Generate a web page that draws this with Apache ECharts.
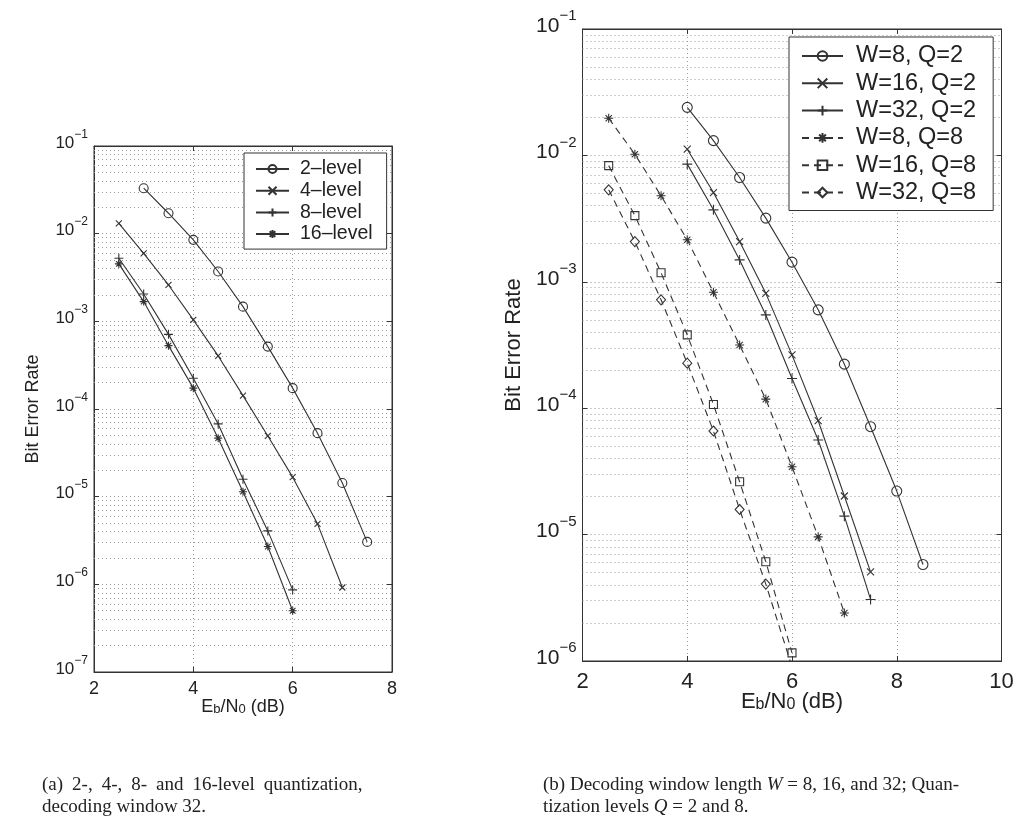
<!DOCTYPE html>
<html>
<head>
<meta charset="utf-8">
<script src="https://cdn.jsdelivr.net/npm/echarts@6.0.0/dist/echarts.min.js"></script>
<style>
  html, body { margin: 0; padding: 0; background: #fff; }
  #chart { width: 1024px; height: 819px; }
</style>
</head>
<body>
<div id="chart"></div>
<script>
// ---- (a) quantization levels, decoding window 32 ----
const ebnoQ2 = [3, 3.5, 4, 4.5, 5, 5.5, 6, 6.5, 7, 7.5];
const berQ2 = [3.3e-2, 1.71e-2, 8.5e-3, 3.7e-3, 1.47e-3, 5.15e-4, 1.73e-4, 5.3e-5, 1.43e-5, 3.05e-6];
const ebnoQ4 = [2.5, 3, 3.5, 4, 4.5, 5, 5.5, 6, 6.5, 7];
const berQ4 = [1.31e-2, 5.97e-3, 2.6e-3, 1.04e-3, 4.03e-4, 1.42e-4, 4.93e-5, 1.67e-5, 4.9e-6, 9.2e-7];
const ebnoQ8 = [2.5, 3, 3.5, 4, 4.5, 5, 5.5, 6];
const berQ8 = [5.24e-3, 2.05e-3, 7.1e-4, 2.24e-4, 6.76e-5, 1.58e-5, 4.07e-6, 8.65e-7];
const ebnoQ16 = [2.5, 3, 3.5, 4, 4.5, 5, 5.5, 6];
const berQ16 = [4.52e-3, 1.68e-3, 5.28e-4, 1.73e-4, 4.65e-5, 1.14e-5, 2.7e-6, 5.0e-7];
const namesA = ['2–level', '4–level', '8–level', '16–level'];

// ---- (b) decoding window W and quantization Q ----
const ebnoW8Q2 = [4, 4.5, 5, 5.5, 6, 6.5, 7, 7.5, 8, 8.5];
const berW8Q2 = [2.4e-2, 1.31e-2, 6.68e-3, 3.19e-3, 1.43e-3, 6.0e-4, 2.23e-4, 7.14e-5, 2.21e-5, 5.8e-6];
const ebnoW16Q2 = [4, 4.5, 5, 5.5, 6, 6.5, 7, 7.5];
const berW16Q2 = [1.12e-2, 5.08e-3, 2.08e-3, 8.1e-4, 2.64e-4, 7.96e-5, 2.02e-5, 5.07e-6];
const ebnoW32Q2 = [4, 4.5, 5, 5.5, 6, 6.5, 7, 7.5];
const berW32Q2 = [8.53e-3, 3.71e-3, 1.49e-3, 5.47e-4, 1.72e-4, 5.6e-5, 1.4e-5, 3.07e-6];
const ebnoW8Q8 = [2.5, 3, 3.5, 4, 4.5, 5, 5.5, 6, 6.5, 7];
const berW8Q8 = [1.97e-2, 1.02e-2, 4.79e-3, 2.15e-3, 8.27e-4, 3.16e-4, 1.18e-4, 3.44e-5, 9.6e-6, 2.4e-6];
const ebnoW16Q8 = [2.5, 3, 3.5, 4, 4.5, 5, 5.5, 6];
const berW16Q8 = [8.3e-3, 3.34e-3, 1.18e-3, 3.8e-4, 1.07e-4, 2.62e-5, 6.1e-6, 1.16e-6];
const ebnoW32Q8 = [2.5, 3, 3.5, 4, 4.5, 5, 5.5, 6];
const berW32Q8 = [5.34e-3, 2.08e-3, 7.2e-4, 2.27e-4, 6.6e-5, 1.58e-5, 4.06e-6, 9.0e-7];
const namesB = ['W=8, Q=2', 'W=16, Q=2', 'W=32, Q=2', 'W=8, Q=8', 'W=16, Q=8', 'W=32, Q=8'];

const xTicksA = [2, 4, 6, 8];
const xTicksB = [2, 4, 6, 8, 10];

// marker outlines (stroked, hollow)
const MK = {
  circle: 'path://M10,5A5,5,0,1,1,0,5A5,5,0,1,1,10,5Z',
  cross: 'path://M0,0L10,10M10,0L0,10',
  plus: 'path://M5,0L5,10M0,5L10,5',
  star: 'path://M5,0L5,10M0,5L10,5M1.5,1.5L8.5,8.5M8.5,1.5L1.5,8.5',
  square: 'path://M0,0L10,0L10,10L0,10Z',
  diamond: 'path://M5,0L10,6L5,12L0,6Z'
};

const INK = '#333';
const GRIDC = '#9a9a9a';
const FONT = 'Liberation Sans, Arial, sans-serif';
const SERIF = '"Liberation Serif", "Times New Roman", serif';

function pairs(xs, ys) { return xs.map((x, i) => [x, ys[i]]); }

function curve(name, xs, ys, sym, size, dashed, xi, yi) {
  return {
    name: name, type: 'line', xAxisIndex: xi, yAxisIndex: yi,
    data: pairs(xs, ys), z: 5, clip: true, animation: false,
    symbol: sym, symbolSize: size,
    lineStyle: { color: INK, width: 1.1, type: dashed ? [7, 5] : 'solid' },
    itemStyle: { color: 'transparent', borderColor: INK, borderWidth: 1.1 },
    emphasis: { disabled: true }
  };
}

// dotted minor grid lines at 2..9 x 10^e, spanning the x range
function minorGrid(xi, yi, xLo, xHi, eLo, eHi) {
  const segs = [];
  for (let e = eLo; e < eHi; e++) {
    for (let k = 2; k <= 9; k++) {
      const v = k * Math.pow(10, e);
      segs.push({ coords: [[xLo, v], [xHi, v]] });
    }
  }
  return {
    type: 'lines', coordinateSystem: 'cartesian2d', xAxisIndex: xi, yAxisIndex: yi,
    z: 1, silent: true, animation: false, polyline: false,
    lineStyle: { color: GRIDC, type: [1, 3], width: 1, opacity: 1 },
    data: segs
  };
}

function expLabel(v) {
  const e = Math.round(Math.log10(v));
  return '{b|10}{s|−' + (-e) + '}';
}

function xAxisPair(gridIndex, min, max, fs, margin, nameGap, nameFs) {
  return [{
    type: 'value', gridIndex: gridIndex, min: min, max: max, interval: 2, position: 'bottom',
    axisLine: { lineStyle: { color: INK, width: 1 } },
    axisTick: { inside: true, length: 5, lineStyle: { color: INK } },
    axisLabel: { color: '#222', fontSize: fs, fontFamily: FONT, margin: margin },
    splitLine: { show: true, lineStyle: { color: GRIDC, type: [1, 3], width: 1 } },
    name: 'E{sub|b}/N{sub|0} (dB)', nameLocation: 'middle', nameGap: nameGap, nameMoveOverlap: false,
    nameTextStyle: {
      color: '#222', fontSize: nameFs, fontFamily: FONT,
      rich: { sub: { fontSize: Math.round(nameFs * 0.72), fontFamily: FONT, color: '#222', verticalAlign: 'bottom', lineHeight: Math.round(nameFs * 0.72), padding: [7, 0, 0, 0] } }
    }
  }, {
    type: 'value', gridIndex: gridIndex, min: min, max: max, interval: 2, position: 'top',
    axisLine: { lineStyle: { color: INK, width: 1 } },
    axisTick: { inside: true, length: 5, lineStyle: { color: INK } },
    axisLabel: { show: false }, splitLine: { show: false }
  }];
}

function yAxisPair(gridIndex, min, max, fs, nameGap, nameFs) {
  return [{
    type: 'log', logBase: 10, gridIndex: gridIndex, min: min, max: max, interval: 1, position: 'left',
    axisLine: { lineStyle: { color: INK, width: 1 } },
    axisTick: { inside: true, length: 5, lineStyle: { color: INK } },
    axisLabel: {
      formatter: expLabel, margin: 6, padding: [0, 0, 6, 0],
      rich: {
        b: { fontSize: fs, fontFamily: FONT, color: '#222', verticalAlign: 'bottom', lineHeight: fs },
        s: { fontSize: Math.round(fs * 0.7), fontFamily: FONT, color: '#222', verticalAlign: 'bottom', lineHeight: Math.round(fs * 0.7), padding: [0, 0, Math.round(fs * 0.62), 0] }
      }
    },
    splitLine: { show: true, lineStyle: { color: GRIDC, type: [1, 3], width: 1 } },
    name: 'Bit Error Rate', nameLocation: 'middle', nameGap: nameGap, nameMoveOverlap: false,
    nameTextStyle: { color: '#222', fontSize: nameFs, fontFamily: FONT }
  }, {
    type: 'log', logBase: 10, gridIndex: gridIndex, min: min, max: max, interval: 1, position: 'right',
    axisLine: { lineStyle: { color: INK, width: 1 } },
    axisTick: { inside: true, length: 5, lineStyle: { color: INK } },
    axisLabel: { show: false }, splitLine: { show: false }
  }];
}

const chart = echarts.init(document.getElementById('chart'), null, { renderer: 'canvas' });

const option = {
  backgroundColor: '#fff',
  animation: false,
  grid: [
    { left: 94, top: 146, width: 298, height: 526, show: true, borderColor: INK, borderWidth: 1, backgroundColor: '#fff' },
    { left: 582.5, top: 29, width: 419, height: 632, show: true, borderColor: INK, borderWidth: 1, backgroundColor: '#fff' }
  ],
  xAxis: [].concat(
    xAxisPair(0, xTicksA[0], xTicksA[xTicksA.length - 1], 18, 8, 26, 18),
    xAxisPair(1, xTicksB[0], xTicksB[xTicksB.length - 1], 22, 10, 30, 22)
  ),
  yAxis: [].concat(
    yAxisPair(0, 1e-7, 1e-1, 17, 52, 18),
    yAxisPair(1, 1e-6, 1e-1, 21, 58, 22)
  ),
  legend: [{
    data: namesA, orient: 'vertical', left: 244, top: 153,
    itemWidth: 33, itemHeight: 10, itemGap: 1.7,
    padding: [6, 14, 5, 11],
    backgroundColor: '#fff', borderColor: INK, borderWidth: 1, borderRadius: 0,
    textStyle: { fontSize: 19.5, fontFamily: FONT, color: '#222', lineHeight: 20, padding: [0, 0, 0, 6] },
    selectedMode: false
  }, {
    data: namesB, orient: 'vertical', left: 789, top: 37,
    itemWidth: 41, itemHeight: 12, itemGap: 1.3,
    padding: [6, 17, 5, 12],
    backgroundColor: '#fff', borderColor: INK, borderWidth: 1, borderRadius: 0,
    textStyle: { fontSize: 23.5, fontFamily: FONT, color: '#222', lineHeight: 26, padding: [0, 0, 0, 8] },
    selectedMode: false
  }],
  series: [
    minorGrid(0, 0, xTicksA[0], xTicksA[xTicksA.length - 1], -7, -1),
    minorGrid(2, 2, xTicksB[0], xTicksB[xTicksB.length - 1], -6, -1),
    curve(namesA[0], ebnoQ2, berQ2, MK.circle, 9, false, 0, 0),
    curve(namesA[1], ebnoQ4, berQ4, MK.cross, 6, false, 0, 0),
    curve(namesA[2], ebnoQ8, berQ8, MK.plus, 9, false, 0, 0),
    curve(namesA[3], ebnoQ16, berQ16, MK.star, 8, false, 0, 0),
    curve(namesB[0], ebnoW8Q2, berW8Q2, MK.circle, 10, false, 2, 2),
    curve(namesB[1], ebnoW16Q2, berW16Q2, MK.cross, 7, false, 2, 2),
    curve(namesB[2], ebnoW32Q2, berW32Q2, MK.plus, 10, false, 2, 2),
    curve(namesB[3], ebnoW8Q8, berW8Q8, MK.star, 9, true, 2, 2),
    curve(namesB[4], ebnoW16Q8, berW16Q8, MK.square, 8, true, 2, 2),
    curve(namesB[5], ebnoW32Q8, berW32Q8, MK.diamond, [9, 10], true, 2, 2)
  ],
  graphic: [
    { type: 'text', left: 42, top: 774, silent: true,
      style: {
        text: '(a){w| }2-,{w| }4-,{w| }8-{w| }and{w| }16-level{w| }quantization,\ndecoding window 32.',
        font: '19px ' + SERIF, fill: '#222', lineHeight: 22,
        rich: { w: { width: 9, fontSize: 19, fontFamily: SERIF, lineHeight: 22 } }
      } },
    { type: 'text', left: 543, top: 774, silent: true,
      style: {
        text: '(b) Decoding window length {i|W} = 8, 16, and 32; Quan-\ntization levels {i|Q} = 2 and 8.',
        font: '19px ' + SERIF, fill: '#222', lineHeight: 22,
        rich: { i: { fontStyle: 'italic', fontSize: 19, fontFamily: SERIF, fill: '#222', lineHeight: 22 } }
      } }
  ]
};

chart.setOption(option);
</script>
</body>
</html>
